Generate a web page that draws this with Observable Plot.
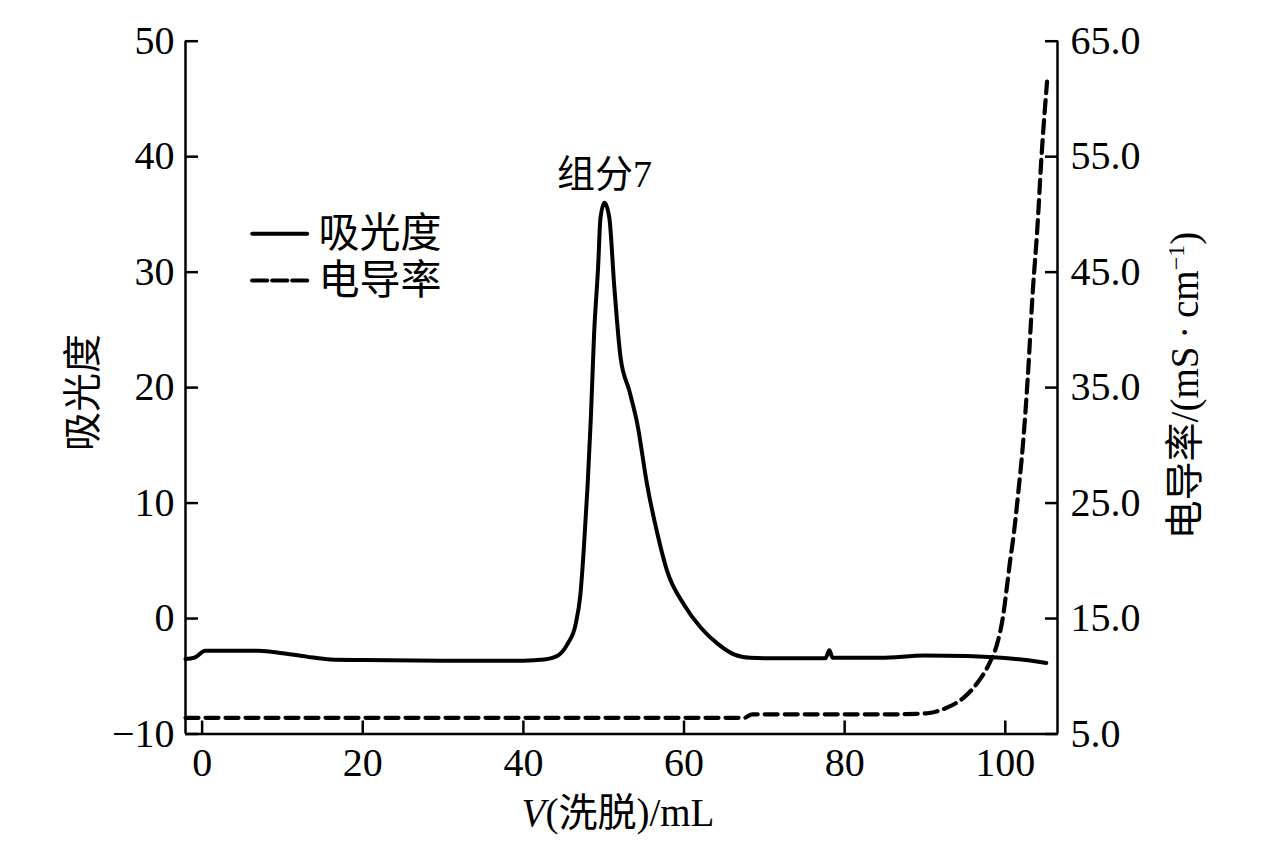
<!DOCTYPE html>
<html><head><meta charset="utf-8">
<script src="https://cdn.jsdelivr.net/npm/d3@7"></script>
<script src="https://cdn.jsdelivr.net/npm/@observablehq/plot@0.6"></script>
<style>body{margin:0;background:#fff}</style>
</head><body><div id="chart"></div>
<script>
// Absorbance curve (left axis)
const volume = [-2.07, -1.0, 0.4, 3, 7, 10, 13, 16, 20, 30, 40, 42.6, 44.2, 45.5, 46.5, 47.1, 47.5, 48.0, 48.4, 48.8, 49.3, 49.6, 50.1, 50.7, 51.3, 52.1, 53.2, 54.2, 55.4, 56.7, 57.9, 60.0, 62.1, 64.2, 66.2, 68.3, 72, 77.6, 78.1, 78.5, 84.5, 89.9, 95.3, 99.5, 102, 105.1];
const absorbance = [-3.5, -3.4, -2.8, -2.8, -2.8, -3.0, -3.3, -3.55, -3.6, -3.65, -3.65, -3.55, -3.25, -2.2, -0.5, 2.1, 5.8, 11.6, 17.4, 24.6, 30.4, 34.7, 36.0, 34.7, 28.9, 22.6, 19.7, 16.8, 11.6, 7.3, 4.1, 1.2, -0.8, -2.2, -3.1, -3.4, -3.45, -3.45, -2.75, -3.4, -3.4, -3.2, -3.25, -3.4, -3.55, -3.85];
// Conductivity curve (right axis, mS/cm)
const condVolume = [-2.07, 10, 20, 30, 40, 50, 60, 67.5, 68.5, 75, 85, 89, 90.3, 92.8, 94.9, 96.6, 98.0, 99.1, 99.7, 100.3, 100.6, 101.0, 101.6, 102.2, 102.8, 103.4, 104.0, 104.5, 105.2];
const conductivity = [6.4, 6.4, 6.4, 6.4, 6.4, 6.4, 6.4, 6.4, 6.7, 6.7, 6.7, 6.75, 6.8, 7.3, 8.2, 9.5, 11.1, 13.1, 15.1, 18.3, 20.0, 22.0, 25.8, 30.1, 35.9, 43.1, 48.9, 54.9, 61.5];

const xTicks = [0, 20, 40, 60, 80, 100];
const leftTicks = [-10, 0, 10, 20, 30, 40, 50];
const rightTicks = [5, 15, 25, 35, 45, 55, 65];
const xDomain = [-2.07, 106.5];
const yDomain = [-10, 50];
const condOffset = 15; // conductivity value = left-scale value + 15

const legendItems = ["吸光度", "电导率"];
const peakLabels = [{v: 50.1, a: 36.0, label: "组分7"}];
const xLabel = "V(洗脱)/mL";
const yLabel = "吸光度";
const y2Label = "电导率/(mS\u2009·\u2009cm⁻¹)";

const absData = volume.map((v, i) => ({v, a: absorbance[i]}));
const condData = condVolume.map((v, i) => ({v, c: conductivity[i]}));

const lineShape = {draw(context, l) { context.moveTo(0, 0); context.lineTo(0, -l); }};
const fmtLeft = d => d < 0 ? "\u2212" + Math.abs(d) : String(d);
const AX = 2.5;
const rightTickVals = rightTicks.map(d => d - condOffset);

const chart = Plot.plot({
  width: 1276,
  height: 847,
  marginLeft: 185,
  marginRight: 219,
  marginTop: 40.7,
  marginBottom: 113.5,
  style: {fontFamily: '"Liberation Serif", "Noto Sans CJK SC", serif', fontSize: "40px", background: "#fff", color: "#000"},
  x: {domain: xDomain, label: null},
  y: {domain: yDomain, label: null},
  marks: [
    // axis lines (no top border)
    Plot.ruleX([xDomain[0]], {strokeWidth: AX}),
    Plot.ruleX([xDomain[1]], {strokeWidth: AX}),
    Plot.ruleY([yDomain[0]], {strokeWidth: AX}),
    // inward ticks (tick-only axes)
    Plot.axisX({anchor: "bottom", ticks: xTicks, tickSize: 13, dy: -13, fill: "none", strokeWidth: AX, label: null}),
    Plot.axisY({anchor: "left", ticks: leftTicks, tickSize: 13, dx: 13, fill: "none", strokeWidth: AX, label: null}),
    Plot.axisY({anchor: "right", ticks: rightTickVals, tickSize: 13, dx: -13, fill: "none", strokeWidth: AX, label: null}),
    // tick labels (text-only axes)
    Plot.axisX({anchor: "bottom", ticks: xTicks, tickSize: 0, tickPadding: 14, tickFormat: d => String(d), label: null}),
    Plot.axisY({anchor: "left", ticks: leftTicks, tickSize: 0, tickPadding: 11, tickFormat: fmtLeft, label: null}),
    Plot.axisY({anchor: "right", ticks: rightTickVals, tickSize: 0, tickPadding: 13, tickFormat: d => (d + condOffset).toFixed(1), label: null}),
    // axis titles
    Plot.text([xLabel], {frameAnchor: "bottom", dx: -3.5, dy: 80, textAnchor: "middle", lineAnchor: "middle", fontSize: 39}),
    Plot.text([yLabel], {frameAnchor: "left", dx: -102, dy: 5, rotate: -90, textAnchor: "middle", lineAnchor: "middle", fontSize: 39}),
    Plot.text([y2Label], {frameAnchor: "right", dx: 128, dy: -2, rotate: -90, textAnchor: "middle", lineAnchor: "middle", fontSize: 39}),
    // data
    Plot.line(condData, {x: "v", y: d => d.c - condOffset, curve: "monotone-x", stroke: "#000", strokeWidth: 4.2, strokeDasharray: "13,7"}),
    Plot.line(absData, {x: "v", y: "a", curve: "monotone-x", stroke: "#000", strokeWidth: 4}),
    // peak annotation
    Plot.text(peakLabels, {x: "v", y: "a", text: "label", dy: -28, lineAnchor: "middle", fontSize: 38}),
    // legend
    Plot.vector([legendItems[0]], {frameAnchor: "top-left", dx: 66.7, dy: 192.6, length: 55, rotate: 90, anchor: "start", shape: lineShape, stroke: "#000", strokeWidth: 4}),
    Plot.vector([legendItems[1]], {frameAnchor: "top-left", dx: 66.7, dy: 239.3, length: 55, rotate: 90, anchor: "start", shape: lineShape, stroke: "#000", strokeWidth: 4.2, strokeDasharray: "15,5"}),
    Plot.text([legendItems[0]], {frameAnchor: "top-left", dx: 133, dy: 192.8, textAnchor: "start", lineAnchor: "middle", fontSize: 41}),
    Plot.text([legendItems[1]], {frameAnchor: "top-left", dx: 133, dy: 240, textAnchor: "start", lineAnchor: "middle", fontSize: 41})
  ]
});

// rich text: italic V and superscript −1
const ns = "http://www.w3.org/2000/svg";
chart.querySelectorAll("text").forEach(t => {
  if (t.textContent === xLabel) {
    t.textContent = "";
    const a = document.createElementNS(ns, "tspan"); a.setAttribute("font-style", "italic"); a.textContent = "V";
    const b = document.createElementNS(ns, "tspan"); b.textContent = xLabel.slice(1);
    t.append(a, b);
  } else if (t.textContent === y2Label) {
    const base = y2Label.replace("⁻¹)", "");
    t.textContent = "";
    const a = document.createElementNS(ns, "tspan"); a.textContent = base;
    const s = document.createElementNS(ns, "tspan"); s.setAttribute("font-size", "24px"); s.setAttribute("dy", "-14"); s.textContent = "−1";
    const c = document.createElementNS(ns, "tspan"); c.setAttribute("dy", "14"); c.textContent = ")";
    t.append(a, s, c);
  }
});

document.getElementById("chart").append(chart);
</script>
</body></html>
